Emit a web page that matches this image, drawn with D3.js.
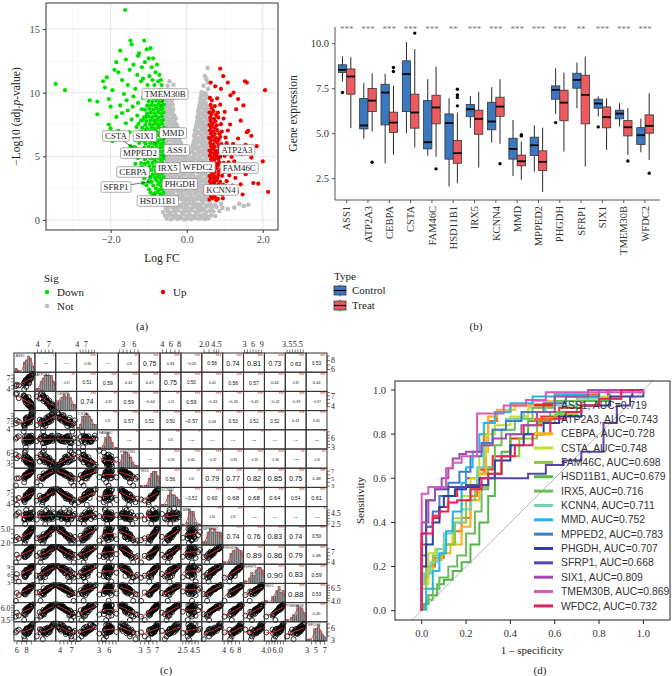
<!DOCTYPE html>
<html><head><meta charset="utf-8">
<script src="https://cdn.jsdelivr.net/npm/d3@7"></script>
<style>body{margin:0;background:#fff}svg{display:block}</style>
</head><body><div id="fig"></div>
<script>
const genes = ["ASS1","ATP2A3","CEBPA","CSTA","FAM46C","HSD11B1","IRX5","KCNN4","MMD","MPPED2","PHGDH","SFRP1","SIX1","TMEM30B","WFDC2"];

// (a) volcano: [logFC, -log10 adj p]
const notPts = [[-0.52,0.12],[-0.41,0.05],[-0.33,0.18],[-0.24,0.08],[-0.15,0.15],[-0.06,0.04],[0.03,0.11],[0.12,0.06],[0.21,0.17],[0.3,0.09],[0.39,0.14],[0.48,0.07],[0.57,0.13],
[-0.57,0.35],[-0.46,0.42],[-0.37,0.3],[-0.28,0.38],[-0.19,0.27],[-0.1,0.44],[-0.01,0.32],[0.08,0.4],[0.17,0.29],[0.26,0.45],[0.35,0.33],[0.44,0.41],[0.53,0.28],[0.64,0.36],[0.75,0.31],
[-0.62,0.62],[-0.5,0.7],[-0.42,0.58],[-0.31,0.66],[-0.22,0.74],[-0.12,0.6],[-0.04,0.71],[0.06,0.64],[0.14,0.76],[0.23,0.6],[0.33,0.69],[0.42,0.77],[0.51,0.63],[0.6,0.72],[0.7,0.66],[0.86,0.7],
[-0.55,0.95],[-0.45,1.02],[-0.35,0.9],[-0.26,0.98],[-0.16,1.05],[-0.08,0.92],[0.02,1.0],[0.1,0.88],[0.19,1.04],[0.28,0.93],[0.37,1.01],[0.46,0.9],[0.55,1.06],[0.66,0.97],[0.78,1.03],[0.94,0.95],[1.08,0.86],
[-0.58,1.25],[-0.48,1.18],[-0.39,1.3],[-0.29,1.22],[-0.2,1.15],[-0.11,1.28],[-0.02,1.2],[0.07,1.32],[0.16,1.17],[0.25,1.27],[0.34,1.21],[0.43,1.31],[0.52,1.16],[0.62,1.24],[0.74,1.19],[0.9,1.28],[1.38,1.26],[1.5,1.1],[1.62,1.2],[1.25,0.98],
[-0.56,1.55],[-0.46,1.62],[-0.36,1.5],[-0.25,1.58],[-0.14,1.65],[-0.04,1.52],[0.06,1.6],[0.17,1.5],[0.27,1.64],[0.38,1.56],[0.48,1.6],[0.56,1.52],
[-0.51,1.78],[-0.41,1.72],[-0.3,1.8],[-0.19,1.7],[-0.09,1.77],[0.01,1.73],[0.12,1.79],[0.22,1.71],[0.33,1.78],[0.43,1.74],[0.53,1.8],
[-0.53,1.95],[-0.43,2.05],[-0.32,1.9],[-0.21,2.02],[-0.1,1.93],[0.0,2.08],[0.1,1.97],[0.21,2.06],[0.31,1.92],[0.42,2.03],[0.52,1.96],
[-0.55,2.22],[-0.45,2.28],[-0.35,2.2],[-0.24,2.27],[-0.13,2.23],[-0.03,2.3],[0.08,2.21],[0.18,2.29],[0.28,2.24],[0.38,2.2],[0.49,2.28],
[-0.57,2.45],[-0.47,2.55],[-0.37,2.4],[-0.27,2.52],[-0.17,2.44],[-0.06,2.58],[0.05,2.46],[0.15,2.56],[0.25,2.42],[0.35,2.53],[0.45,2.47],[0.55,2.57],
[-0.5,2.72],[-0.4,2.78],[-0.29,2.7],[-0.19,2.77],[-0.08,2.73],[0.03,2.8],[0.13,2.71],[0.23,2.79],[0.34,2.74],[0.44,2.7],[0.54,2.78],
[-0.54,2.95],[-0.44,3.05],[-0.34,2.9],[-0.23,3.02],[-0.12,2.93],[-0.02,3.08],[0.09,2.96],[0.19,3.06],[0.3,2.91],[0.4,3.03],[0.5,2.97],
[-0.52,3.22],[-0.41,3.28],[-0.3,3.2],[-0.19,3.27],[-0.08,3.23],[0.02,3.3],[0.12,3.21],[0.23,3.29],[0.33,3.24],[0.43,3.2],[0.53,3.28],
[-0.56,3.45],[-0.46,3.56],[-0.35,3.42],[-0.25,3.52],[-0.14,3.47],[-0.04,3.58],[0.07,3.44],[0.17,3.55],[0.28,3.4],[0.38,3.5],[0.48,3.57],[0.57,3.46],
[-0.55,3.72],[-0.45,3.78],[-0.34,3.7],[-0.23,3.77],[-0.12,3.73],[-0.02,3.8],[0.09,3.71],[0.19,3.79],[0.3,3.74],[0.4,3.7],[0.5,3.78],
[-0.53,3.95],[-0.42,4.06],[-0.31,3.92],[-0.2,4.03],[-0.09,3.97],[0.02,4.08],[0.13,3.94],[0.24,4.04],[0.34,3.91],[0.44,4.02],[0.54,3.98],
[-0.5,4.22],[-0.39,4.28],[-0.28,4.2],[-0.17,4.27],[-0.06,4.23],[0.05,4.3],[0.16,4.21],[0.26,4.29],[0.36,4.24],[0.46,4.2],[0.56,4.28],
[-0.57,4.45],[-0.47,4.56],[-0.37,4.42],[-0.26,4.53],[-0.15,4.47],[-0.05,4.58],[0.06,4.44],[0.16,4.55],[0.27,4.41],[0.37,4.52],[0.47,4.57],[0.56,4.46],
[-0.55,4.72],[-0.44,4.78],[-0.34,4.7],[-0.23,4.77],[-0.12,4.73],[-0.02,4.8],[0.09,4.71],[0.19,4.79],[0.3,4.74],[0.4,4.7],[0.5,4.78],
[-0.54,4.95],[-0.43,5.06],[-0.32,4.92],[-0.21,5.03],[-0.1,4.97],[0.01,5.02],[0.12,4.93],[0.22,5.05],[0.33,4.96],[0.43,5.07],[0.53,4.94],
[-0.52,5.22],[-0.41,5.28],[-0.3,5.2],[-0.18,5.27],[-0.07,5.23],[0.08,5.3],[0.19,5.21],[0.3,5.29],[0.41,5.24],[0.51,5.2],
[-0.56,5.45],[-0.45,5.56],[-0.34,5.5],[-0.22,5.42],[-0.12,5.55],[0.14,5.46],[0.25,5.57],[0.36,5.44],[0.46,5.53],[0.56,5.48],
[-0.51,5.72],[-0.4,5.78],[-0.28,5.7],[-0.17,5.77],[0.15,5.73],[0.22,5.8],[0.32,5.71],[0.42,5.79],[0.52,5.74],
[-0.55,6.02],[-0.44,5.93],[-0.33,6.06],[-0.22,5.97],[-0.15,6.05],[0.17,5.95],[0.28,6.07],[0.39,5.98],[0.49,6.04],[0.57,5.92],
[-0.52,6.22],[-0.41,6.28],[-0.29,6.2],[-0.19,6.27],[0.19,6.23],[0.25,6.3],[0.35,6.21],[0.45,6.29],[0.54,6.24],
[-0.57,6.45],[-0.47,6.56],[-0.36,6.44],[-0.26,6.53],[-0.19,6.47],[0.2,6.55],[0.3,6.43],[0.41,6.52],[0.51,6.46],
[-0.52,6.72],[-0.41,6.78],[-0.3,6.7],[-0.21,6.77],[0.21,6.73],[0.27,6.8],[0.38,6.71],[0.48,6.79],[0.56,6.74],
[-0.54,7.05],[-0.43,6.94],[-0.33,7.06],[-0.24,6.97],[0.22,7.03],[0.33,6.95],[0.43,7.07],[0.53,6.98],
[-0.51,7.22],[-0.4,7.28],[-0.3,7.2],[-0.24,7.27],[0.24,7.23],[0.3,7.3],[0.4,7.21],[0.5,7.29],
[-0.56,7.45],[-0.46,7.56],[-0.36,7.43],[-0.27,7.52],[0.25,7.46],[0.35,7.55],[0.45,7.44],[0.55,7.53],
[-0.51,7.72],[-0.41,7.78],[-0.32,7.7],[0.27,7.73],[0.33,7.8],[0.42,7.71],[0.52,7.79],
[-0.55,8.04],[-0.45,7.95],[-0.35,8.06],[-0.29,7.97],[0.28,8.05],[0.38,7.96],[0.48,8.07],[0.57,7.94],
[-0.52,8.22],[-0.42,8.28],[-0.33,8.2],[0.3,8.23],[0.35,8.3],[0.45,8.21],[0.54,8.29],
[-0.57,8.46],[-0.47,8.55],[-0.38,8.43],[0.3,8.53],[0.4,8.45],[0.5,8.56],
[-0.52,8.72],[-0.42,8.78],[-0.36,8.7],[0.32,8.73],[0.38,8.8],[0.48,8.71],[0.56,8.79],
[-0.55,9.04],[-0.45,8.96],[-0.37,9.07],[0.33,8.95],[0.43,9.06],[0.53,8.97],
[-0.51,9.22],[-0.41,9.28],[0.35,9.23],[0.41,9.3],[0.5,9.21],
[-0.56,9.46],[-0.46,9.55],[-0.39,9.43],[0.36,9.52],[0.46,9.45],[0.56,9.56],
[-0.51,9.72],[-0.42,9.78],[0.38,9.73],[0.45,9.8],[0.53,9.71],
[-0.54,10.05],[-0.43,9.96],[0.39,10.04],[0.49,9.95],[0.56,10.3],
[-0.5,10.55],[-0.35,10.62],[0.44,10.55],[0.52,11.05],[0.55,10.8],[0.48,11.3],[0.55,11.95],[-0.45,10.9]];

const downPts = [[-3.45,10.7],[-3.2,10.2],[-2.55,9.4],[-2.35,9.3],[-2.35,8.3],[-2.2,10.9],[-2.15,10.4],[-2.1,11.2],[-2.05,9.5],[-2.0,8.9],[-1.95,10.2],[-1.9,11.8],[-1.85,12.4],[-1.8,11.6],[-1.75,13.3],[-1.7,11.0],[-1.65,9.9],[-1.62,16.5],[-1.6,12.6],[-1.55,10.6],[-1.5,11.8],[-1.48,14.1],[-1.45,13.8],[-1.4,12.2],[-1.35,10.3],[-1.3,11.4],[-1.28,12.9],[-1.25,13.1],[-1.2,10.9],[-1.18,12.0],[-1.15,11.1],[-1.12,14.1],[-1.1,12.4],[-1.05,13.4],[-1.03,10.6],[-1.0,12.7],[-0.98,11.3],[-0.95,13.5],[-0.92,12.0],[-0.9,11.0],[-0.88,12.7],[-0.85,10.6],[-0.82,11.6],[-0.78,12.2],[-0.75,10.9],[-0.72,11.4],[-0.7,10.2],[-0.68,11.0],[-0.66,10.6],
[-2.05,7.5],[-2.0,7.2],[-1.95,6.2],[-1.9,6.5],[-1.85,8.1],[-1.8,7.0],[-1.75,9.0],[-1.7,8.4],[-1.65,6.8],[-1.6,7.6],[-1.58,9.4],[-1.55,8.6],[-1.5,6.9],[-1.48,5.8],[-1.45,7.9],[-1.42,8.9],[-1.4,9.7],[-1.35,6.3],[-1.32,7.3],[-1.3,8.2],[-1.28,9.2],[-1.25,5.5],[-1.22,6.8],[-1.2,7.8],[-1.18,8.7],[-1.15,9.6],[-1.12,5.1],[-1.1,6.1],[-1.08,7.1],[-1.06,8.1],[-1.04,9.0],[-1.02,9.9],[-1.35,4.4],[-1.15,2.9],[-1.25,3.8],[-1.1,4.4],
[-0.62,1.5],[-0.7,1.62],[-0.78,1.45],[-0.86,1.58],[-0.65,1.83],[-0.74,1.76],[-0.9,1.88],
[-0.61,2.12],[-0.69,2.04],[-0.77,2.18],[-0.85,2.08],[-0.95,2.15],[-0.64,2.42],[-0.72,2.36],[-0.81,2.47],[-0.99,2.4],
[-0.6,2.74],[-0.67,2.66],[-0.75,2.78],[-0.88,2.7],[-1.06,2.73],[-0.63,3.04],[-0.7,2.96],[-0.79,3.08],[-0.92,3.0],[-1.0,3.05],
[-0.61,3.35],[-0.68,3.27],[-0.76,3.38],[-0.84,3.3],[-0.96,3.34],[-1.12,3.28],[-0.64,3.63],[-0.71,3.56],[-0.8,3.66],[-0.89,3.58],[-1.03,3.62],
[-0.6,3.94],[-0.66,3.86],[-0.74,3.97],[-0.83,3.88],[-0.93,3.93],[-1.08,3.87],[-0.62,4.24],[-0.7,4.16],[-0.78,4.27],[-0.87,4.18],[-0.98,4.23],[-1.18,4.17],
[-0.65,4.54],[-0.72,4.46],[-0.81,4.57],[-0.9,4.48],[-1.02,4.53],[-1.2,4.47],[-0.61,4.84],[-0.68,4.76],[-0.77,4.87],[-0.86,4.78],[-0.95,4.83],[-1.1,4.77],[-1.28,4.85],
[-0.63,5.14],[-0.71,5.06],[-0.8,5.17],[-0.88,5.08],[-0.99,5.13],[-1.14,5.07],[-0.6,5.44],[-0.67,5.36],[-0.75,5.47],[-0.84,5.38],[-0.93,5.43],[-1.05,5.37],[-1.22,5.45],
[-0.64,5.74],[-0.72,5.66],[-0.79,5.77],[-0.9,5.68],[-1.0,5.73],[-1.12,5.67],[-1.36,5.72],[-0.62,6.04],[-0.69,5.96],[-0.77,6.07],[-0.86,5.98],[-0.96,6.03],[-1.08,5.97],[-1.25,6.05],
[-0.65,6.34],[-0.73,6.26],[-0.82,6.37],[-0.91,6.28],[-1.02,6.33],[-1.16,6.27],[-0.61,6.64],[-0.68,6.56],[-0.76,6.67],[-0.85,6.58],[-0.94,6.63],[-1.06,6.57],[-1.3,6.65],
[-0.63,6.94],[-0.71,6.86],[-0.8,6.97],[-0.89,6.88],[-0.98,6.93],[-1.1,6.87],[-1.2,6.95],[-0.6,7.24],[-0.67,7.16],[-0.75,7.27],[-0.84,7.18],[-0.93,7.23],[-1.04,7.17],[-1.17,7.25],
[-0.64,7.54],[-0.72,7.46],[-0.79,7.57],[-0.88,7.48],[-0.97,7.53],[-1.09,7.47],[-1.27,7.55],[-0.62,7.84],[-0.69,7.76],[-0.78,7.87],[-0.86,7.78],[-0.95,7.83],[-1.06,7.77],[-1.15,7.85],
[-0.65,8.14],[-0.73,8.06],[-0.81,8.17],[-0.9,8.08],[-1.0,8.13],[-1.12,8.07],[-0.61,8.44],[-0.68,8.36],[-0.76,8.47],[-0.84,8.38],[-0.94,8.43],[-1.04,8.37],
[-0.63,8.74],[-0.7,8.66],[-0.79,8.77],[-0.88,8.68],[-0.98,8.73],[-1.1,8.67],[-0.6,9.04],[-0.67,8.96],[-0.75,9.07],[-0.83,8.98],[-0.92,9.03],[-1.02,8.97],
[-0.64,9.34],[-0.72,9.26],[-0.8,9.37],[-0.9,9.28],[-1.0,9.33],[-0.62,9.64],[-0.7,9.56],[-0.78,9.67],[-0.87,9.58],[-0.97,9.63],[-0.66,9.94],[-0.74,9.86],[-0.85,9.97],[-0.95,9.88]];

const upPts = [[0.88,11.9],[0.63,10.8],[0.96,11.3],[1.08,10.8],[1.58,10.8],[1.23,10.0],[1.49,9.0],[0.61,9.6],[2.06,10.2],[1.53,10.9],[1.58,6.9],[1.84,5.8],[2.0,4.6],[1.75,2.9],[1.88,2.85],[2.14,2.2],[1.47,2.0],[1.35,9.5],[1.15,9.8],[0.9,10.3],[0.75,10.5],[1.3,8.7],[1.62,7.0],[1.7,6.6],[1.42,7.8],[1.35,6.4],[1.55,5.9],[1.45,5.2],[1.7,4.9],[1.25,4.6],[1.36,3.9],[1.55,3.6],[1.28,3.3],[1.2,2.7],[1.42,2.8],[1.32,2.2],[0.95,1.7],[0.78,1.55],
[0.6,1.6],[0.68,1.7],[0.82,1.65],[0.64,1.85],[0.74,1.8],[0.62,2.05],[0.71,1.95],[0.8,2.1],[0.93,2.0],[0.65,2.3],[0.72,2.25],[0.82,2.33],[0.59,2.5],[0.66,2.6],[0.75,2.45],[0.86,2.55],[1.0,2.5],
[0.63,2.78],[0.72,2.75],[0.83,2.8],[0.96,2.76],[0.61,3.05],[0.69,2.95],[0.78,3.1],[0.88,3.0],[1.05,3.05],[0.64,3.28],[0.72,3.25],[0.81,3.3],[0.6,3.45],[0.67,3.56],[0.74,3.42],[0.83,3.55],[0.93,3.47],[1.12,3.5],
[0.64,3.78],[0.73,3.75],[0.84,3.8],[0.97,3.77],[0.62,4.05],[0.7,3.94],[0.79,4.08],[0.9,3.97],[1.02,4.03],[0.63,4.28],[0.72,4.25],[0.82,4.3],[0.94,4.26],[0.59,4.46],[0.66,4.57],[0.75,4.44],[0.85,4.55],[0.97,4.48],[1.1,4.52],
[0.64,4.78],[0.73,4.75],[0.83,4.8],[0.61,5.05],[0.69,4.94],[0.78,5.07],[0.88,4.97],[1.0,5.04],[1.18,4.95],[0.63,5.28],[0.72,5.25],[0.82,5.3],[0.93,5.26],[0.6,5.45],[0.67,5.56],[0.76,5.43],[0.86,5.54],[0.98,5.47],[1.12,5.55],
[0.64,5.78],[0.73,5.75],[0.84,5.8],[0.62,6.04],[0.7,5.95],[0.8,6.07],[0.91,5.96],[1.05,6.03],[1.22,5.98],[0.63,6.28],[0.73,6.25],[0.84,6.3],[0.59,6.46],[0.68,6.55],[0.77,6.44],[0.88,6.53],[1.02,6.47],
[0.64,6.78],[0.74,6.75],[0.86,6.8],[0.61,7.04],[0.7,6.96],[0.8,7.06],[0.92,6.95],[1.08,7.03],[0.64,7.28],[0.74,7.25],[0.6,7.46],[0.68,7.55],[0.79,7.44],[0.9,7.53],[1.14,7.5],
[0.63,7.78],[0.75,7.75],[0.62,8.04],[0.72,7.95],[0.83,8.06],[0.97,7.97],[0.65,8.28],[0.77,8.25],[0.6,8.46],[0.7,8.55],[0.82,8.44],[1.0,8.5],[0.66,8.78],[0.63,9.04],[0.74,8.95],[0.88,9.06],[0.66,9.4],[0.8,9.55]];

// labelled genes: name, logFC, -log10 p
const labelGenes = [["TMEM30B",-0.68,8.9],["CSTA",-1.42,5.7],["SIX1",-0.8,6.0],["MMD",-0.62,6.3],["MPPED2",-0.7,5.4],["ASS1",-0.62,5.0],["ATP2A3",0.8,4.9],["IRX5",-0.62,4.3],["WFDC2",0.72,3.9],["FAM46C",0.8,4.4],["CEBPA",-0.95,3.4],["SFRP1",-0.98,3.0],["PHGDH",-0.66,3.1],["KCNN4",0.72,3.0],["HSD11B1",-0.85,2.1]];
// where the repelled label boxes sit (data units)
const labelAt = {TMEM30B:[-0.57,9.9],CSTA:[-1.86,6.6],SIX1:[-1.1,6.6],MMD:[-0.36,6.83],MPPED2:[-1.23,5.26],ASS1:[-0.26,5.5],ATP2A3:[1.32,5.5],IRX5:[-0.5,4.08],WFDC2:[0.29,4.16],FAM46C:[1.38,4.08],CEBPA:[-1.41,3.77],SFRP1:[-1.86,2.59],PHGDH:[-0.18,2.83],KCNN4:[0.9,2.36],HSD11B1:[-0.76,1.49]};

// (b) boxplots: [lower whisker, q1, median, q3, upper whisker]
const boxControl = [[7.87,8.37,8.52,8.80,9.26],[4.69,5.24,5.43,6.93,7.78],[3.33,5.46,7.26,7.72,8.30],[5.00,6.20,8.28,9.02,10.06],[3.76,4.13,4.50,6.81,8.00],[2.04,3.56,5.56,6.07,6.94],[5.31,5.93,6.33,6.59,7.07],[4.48,5.19,5.65,6.72,7.56],[2.63,3.56,4.13,4.72,5.74],[2.87,3.76,4.33,4.78,5.44],[6.07,6.89,7.41,7.63,8.61],[6.39,7.50,7.96,8.33,8.93],[5.93,6.39,6.65,6.89,7.04],[5.37,5.80,6.09,6.28,6.67],[3.94,4.37,4.89,5.31,5.81]];
const boxTreat = [[5.28,7.17,8.15,8.57,9.22],[5.09,6.20,6.81,7.48,8.33],[3.80,5.04,5.59,6.17,7.63],[4.22,5.28,6.15,7.17,9.67],[3.70,5.52,6.43,7.11,8.70],[2.22,3.33,3.89,4.59,6.15],[3.09,4.94,5.80,6.28,7.30],[4.41,5.94,6.48,7.00,8.00],[2.41,3.19,3.44,3.78,4.54],[1.74,2.93,3.41,4.02,5.31],[3.98,5.69,6.70,7.39,8.37],[3.15,5.52,7.13,8.22,9.26],[4.07,5.30,5.89,6.46,6.94],[3.80,4.85,5.33,5.70,6.39],[3.52,5.00,5.41,6.02,7.22]];
const outControl = [[7.26],[],[],[],[],[],[],[],[],[],[5.59],[],[5.35],[],[]];
const outTreat = [[],[3.39],[8.65,8.43],[10.56],[3.02],[7.44,7.13,6.98,6.52],[],[3.30],[4.85,4.92],[],[],[],[],[3.46],[2.78]];
const sigMarks = ["***","***","***","***","***","**","***","***","***","***","***","**","***","***","***"];

// (c) expression per sample, columns in gene order
const samples = [
[5.8,4.8,7.5,6.2,5.8,5.7,3.1,5.3,4.0,2.6,4.1,4.8,4.0,4.2,4.9],
[7.6,5.4,7.0,4.4,4.4,6.3,4.9,4.6,3.5,1.9,5.6,5.3,5.3,4.7,3.2],
[6.4,5.0,6.4,6.8,6.6,5.2,5.1,5.7,4.6,2.9,5.4,3.3,5.1,4.4,5.6],
[7.5,3.8,6.9,5.5,5.1,4.8,4.0,5.0,3.3,3.0,6.0,5.6,5.6,3.5,3.9],
[7.8,5.7,6.6,6.0,3.1,6.8,5.4,5.5,3.9,2.5,5.9,5.9,5.2,4.6,4.6],
[6.0,5.2,7.8,7.3,6.2,4.6,5.0,3.9,4.3,3.3,6.3,6.2,5.5,5.0,5.3],
[7.7,6.0,6.1,6.3,5.4,5.5,5.6,5.9,2.5,3.1,5.7,5.0,5.8,5.2,4.8],
[7.4,5.5,7.2,5.7,8.1,4.2,5.3,5.2,4.1,2.8,6.5,6.7,5.4,4.8,5.0],
[8.2,6.4,5.5,6.6,4.8,5.0,5.7,5.6,3.7,3.5,6.1,6.4,5.9,5.4,4.5],
[7.9,4.6,6.3,7.6,5.7,3.6,5.5,6.3,4.4,3.2,6.8,5.5,5.7,5.1,5.7],
[7.6,6.1,5.9,5.2,6.4,4.5,5.9,5.4,3.4,3.6,6.4,6.9,6.0,5.5,5.1],
[8.4,5.8,6.7,6.9,4.5,3.9,5.8,6.0,3.8,3.4,6.6,7.2,5.8,5.3,4.7],
[7.8,6.6,5.2,7.9,5.9,4.9,6.1,6.5,4.2,3.9,6.9,6.6,6.1,5.6,5.4],
[8.1,5.9,6.0,6.2,6.7,3.4,5.9,5.8,3.6,3.3,7.2,7.5,5.9,5.4,5.8],
[8.6,6.8,5.4,7.4,5.2,4.4,6.2,6.2,3.9,4.0,6.7,7.0,6.2,5.8,5.0],
[7.9,6.3,6.5,8.3,4.7,3.9,6.0,5.7,5.0,3.7,7.1,7.8,6.1,5.5,5.5],
[8.3,7.1,5.7,6.7,6.1,4.7,6.3,6.7,3.3,3.8,7.0,7.3,6.3,5.7,4.9],
[8.0,6.5,4.9,7.8,5.5,3.3,6.1,6.4,4.0,4.2,7.4,7.9,6.2,5.9,5.9],
[8.5,5.6,5.6,7.1,6.5,4.1,6.4,6.0,3.7,3.9,7.3,8.1,6.4,5.6,5.2],
[8.2,7.0,4.6,8.6,5.0,3.7,6.6,6.9,4.3,4.3,7.6,7.6,6.3,6.0,5.6],
[8.7,6.7,5.3,6.5,6.0,4.3,6.3,6.6,3.5,4.1,7.5,8.3,6.5,5.8,6.1],
[8.4,7.4,4.3,7.7,5.6,2.9,6.5,7.2,3.9,4.6,7.8,8.0,6.6,6.1,5.3],
[8.9,6.9,5.0,9.0,4.9,3.5,6.7,6.8,5.3,4.4,7.7,8.6,6.4,6.2,5.8],
[8.6,7.6,4.5,7.2,6.3,3.8,6.8,7.0,3.6,4.8,8.0,8.4,6.7,5.9,6.3],
[8.8,7.2,4.0,8.2,5.3,2.6,6.6,7.4,4.4,4.5,8.2,8.8,6.6,6.3,5.7],
[9.0,7.9,4.8,9.4,5.8,3.2,6.9,6.9,3.8,4.9,7.9,8.7,6.8,6.2,6.6],
[8.7,7.5,3.9,7.9,6.6,2.8,7.0,7.6,4.2,5.0,8.3,9.0,6.7,6.4,6.0],
[9.1,8.0,4.4,8.8,5.1,3.6,6.8,7.3,3.4,5.1,8.1,8.5,6.9,6.5,6.8],
[8.9,7.7,3.7,9.6,6.0,2.4,7.1,7.8,4.0,5.2,8.4,9.1,6.8,6.3,6.4],
[9.2,8.2,4.1,8.5,5.5,3.0,7.2,7.5,4.6,5.3,8.5,8.9,7.0,6.6,7.0],
[9.0,7.8,3.5,10.1,6.8,2.2,7.0,7.9,3.7,5.4,8.6,9.2,6.9,6.5,6.2],
[9.3,8.3,3.4,10.4,5.9,2.7,7.3,8.0,4.3,5.3,8.5,9.3,7.0,6.7,7.1]];
// printed correlations, row i against genes i+1..14
const corrUpper = [
[0.27,-0.19,-0.36,0.14,-0.29,0.75,0.43,-0.40,0.56,0.74,0.81,0.73,0.63,0.53],
[-0.31,0.51,0.59,0.42,0.47,0.75,0.50,0.40,0.56,0.57,0.44,0.35,0.44],
[0.74,-0.33,0.59,-0.44,-0.31,0.59,-0.43,-0.45,-0.42,-0.42,-0.39,-0.37],
[0.31,0.57,0.52,0.50,-0.57,0.43,0.53,0.52,0.52,0.41,0.41],
[-0.20,0.11,0.31,-0.27,0.10,0.17,0.23,0.11,0.10,0.22],
[-0.11,-0.36,0.40,-0.37,-0.35,-0.35,-0.36,-0.28,-0.30],
[0.56,0.30,0.79,0.77,0.82,0.85,0.75,0.48],
[-0.52,0.60,0.68,0.68,0.64,0.54,0.61],
[0.30,0.31,-0.26,0.10,0.18,-0.23],
[0.74,0.76,0.83,0.74,0.50],
[0.89,0.86,0.79,0.48],
[0.90,0.83,0.59],
[0.88,0.53],
[0.45]];
const colTickLabels = [["6","8"],["4","7"],["4","7"],["4","7"],["3","6"],["3","6"],["3","5","7"],["4","6","8"],["2.5","4.5"],["2.0","4.5"],["4","6","8"],["3","6","9"],["4.0","6.0"],["3.5","5.5"],["3","5","7"]];
const rowTickLabels = [["6","8"],["4","7"],["4","7"],["4","7"],["3","6"],["3","6"],["3","5","7"],["4","7"],["2.5","4.5"],["2.0","5.0"],["4","7"],["3","6","9"],["4.0","6.5"],["3.5","6.0"],["3","6"]];

// (d) ROC: [1 - specificity, sensitivity] corners
const aucVals = [0.719,0.743,0.728,0.748,0.698,0.679,0.716,0.711,0.752,0.783,0.707,0.668,0.809,0.869,0.732];
const rocColors = ["#EE2A24","#F26B2A","#F4B41A","#C8DC2C","#8CC63F","#52B848","#6BBE5A","#76D0B8","#1FB8EA","#3E7EC8","#2E3F9E","#5746A5","#A24DB2","#D65CB3","#EC1E5B"];
const rocCurves = [
[[0,0],[0.02,0.3],[0.05,0.38],[0.08,0.42],[0.12,0.47],[0.16,0.52],[0.2,0.56],[0.26,0.6],[0.32,0.64],[0.4,0.7],[0.46,0.78],[0.54,0.84],[0.62,0.88],[0.72,0.92],[0.84,0.95],[1,1]],
[[0,0],[0.03,0.15],[0.06,0.2],[0.1,0.24],[0.14,0.3],[0.18,0.36],[0.22,0.42],[0.25,0.52],[0.28,0.62],[0.3,0.8],[0.34,0.86],[0.4,0.9],[0.5,0.93],[0.6,0.95],[0.8,0.98],[1,1]],
[[0,0],[0.02,0.13],[0.05,0.17],[0.09,0.23],[0.13,0.26],[0.18,0.3],[0.22,0.38],[0.26,0.5],[0.29,0.62],[0.3,0.72],[0.34,0.88],[0.42,0.91],[0.5,0.93],[0.65,0.95],[0.8,0.97],[1,1]],
[[0,0],[0.03,0.12],[0.06,0.26],[0.1,0.28],[0.14,0.3],[0.18,0.42],[0.22,0.52],[0.26,0.6],[0.29,0.7],[0.33,0.8],[0.4,0.84],[0.48,0.88],[0.58,0.92],[0.7,0.95],[0.85,0.97],[1,1]],
[[0,0],[0.02,0.1],[0.05,0.2],[0.1,0.25],[0.15,0.3],[0.2,0.4],[0.24,0.5],[0.3,0.56],[0.36,0.62],[0.44,0.7],[0.52,0.78],[0.6,0.85],[0.7,0.89],[0.8,0.93],[0.9,0.96],[1,1]],
[[0.01,0],[0.03,0.03],[0.07,0.07],[0.1,0.12],[0.14,0.14],[0.18,0.18],[0.22,0.22],[0.26,0.3],[0.3,0.4],[0.33,0.52],[0.36,0.62],[0.4,0.72],[0.48,0.8],[0.58,0.86],[0.7,0.9],[0.85,0.95],[1,1]],
[[0.02,0],[0.05,0.05],[0.08,0.1],[0.12,0.15],[0.16,0.2],[0.2,0.25],[0.24,0.35],[0.27,0.45],[0.3,0.55],[0.33,0.65],[0.36,0.75],[0.42,0.82],[0.5,0.87],[0.6,0.92],[0.75,0.95],[1,1]],
[[0,0],[0.01,0.12],[0.04,0.17],[0.07,0.22],[0.1,0.28],[0.14,0.35],[0.18,0.4],[0.22,0.46],[0.25,0.55],[0.28,0.65],[0.32,0.75],[0.38,0.82],[0.46,0.87],[0.56,0.9],[0.7,0.93],[0.85,0.96],[1,1]],
[[0.02,0],[0.05,0.1],[0.08,0.18],[0.11,0.26],[0.14,0.36],[0.18,0.45],[0.2,0.58],[0.23,0.65],[0.26,0.72],[0.28,0.8],[0.33,0.85],[0.4,0.9],[0.5,0.94],[0.6,0.97],[0.75,0.98],[1,1]],
[[0,0],[0.02,0.25],[0.05,0.38],[0.08,0.45],[0.12,0.52],[0.17,0.58],[0.22,0.63],[0.27,0.7],[0.32,0.76],[0.38,0.82],[0.45,0.86],[0.55,0.9],[0.65,0.94],[0.8,0.97],[1,1]],
[[0,0],[0.02,0.2],[0.05,0.3],[0.08,0.4],[0.1,0.47],[0.15,0.52],[0.2,0.55],[0.26,0.56],[0.33,0.6],[0.4,0.68],[0.46,0.75],[0.55,0.8],[0.62,0.85],[0.72,0.88],[0.85,0.93],[0.95,0.97],[1,1]],
[[0,0],[0.02,0.35],[0.06,0.5],[0.12,0.55],[0.2,0.56],[0.3,0.57],[0.4,0.6],[0.48,0.6],[0.56,0.62],[0.64,0.66],[0.72,0.68],[0.82,0.72],[0.88,0.85],[0.94,0.93],[1,0.97],[1,1]],
[[0,0],[0.03,0.4],[0.06,0.5],[0.09,0.55],[0.12,0.6],[0.14,0.645],[0.17,0.69],[0.2,0.71],[0.27,0.72],[0.32,0.75],[0.38,0.78],[0.45,0.8],[0.52,0.84],[0.6,0.9],[0.75,0.97],[1,1]],
[[0,0],[0.03,0.53],[0.11,0.56],[0.14,0.645],[0.18,0.67],[0.25,0.7],[0.37,0.894],[0.47,0.93],[0.56,0.955],[1,0.99],[1,1]],
[[0,0],[0.05,0.35],[0.08,0.43],[0.12,0.45],[0.16,0.49],[0.22,0.5],[0.27,0.55],[0.3,0.6],[0.36,0.62],[0.42,0.7],[0.5,0.75],[0.58,0.8],[0.65,0.87],[0.72,0.9],[0.8,0.93],[0.9,0.96],[1,1]]];

// ---------- drawing ----------
const serif = "'Liberation Serif','DejaVu Serif',serif";
const sans = "'Liberation Sans',Arial,sans-serif";
const svg = d3.select("#fig").append("svg").attr("width",672).attr("height",676)
  .style("font-family",serif);

function caption(x,y,t){
  svg.append("text").attr("x",x).attr("y",y).attr("text-anchor","middle")
    .attr("font-size",11).attr("fill","#222").text(t);
}

// ===== (a) volcano =====
(function(){
const A = {l:46,r:278,t:3,b:230};
const x = d3.scaleLinear().domain([-3.7,2.4]).range([A.l,A.r]);
const y = d3.scaleLinear().domain([-0.79,17.05]).range([A.b,A.t]);
const g = svg.append("g");

[-3,-1,1].forEach(v=>g.append("line").attr("x1",x(v)).attr("x2",x(v)).attr("y1",A.t).attr("y2",A.b).attr("stroke","#f0f0f0").attr("stroke-width",0.5));
[2.5,7.5,12.5].forEach(v=>g.append("line").attr("y1",y(v)).attr("y2",y(v)).attr("x1",A.l).attr("x2",A.r).attr("stroke","#f0f0f0").attr("stroke-width",0.5));
[-2,0,2].forEach(v=>g.append("line").attr("x1",x(v)).attr("x2",x(v)).attr("y1",A.t).attr("y2",A.b).attr("stroke","#e3e3e3").attr("stroke-width",0.9));
[0,5,10,15].forEach(v=>g.append("line").attr("y1",y(v)).attr("y2",y(v)).attr("x1",A.l).attr("x2",A.r).attr("stroke","#e3e3e3").attr("stroke-width",0.9));

const dot = (pts,col,r)=>g.append("g").selectAll("circle").data(pts).join("circle")
  .attr("cx",d=>x(d[0])).attr("cy",d=>y(d[1])).attr("r",r).attr("fill",col);
dot(notPts,"#bebebe",2.3);
dot(downPts,"#00e000",2.1);
dot(upPts,"#ee0000",2.1);
dot(labelGenes.map(d=>[d[1],d[2]]),null,2.1).attr("fill",d=>d[0]<0?"#00e000":"#ee0000");

// repelled labels
labelGenes.forEach(([name,fc,p])=>{
  const at = labelAt[name];
  const lx = x(at[0]), ly = y(at[1]);
  g.append("line").attr("x1",x(fc)).attr("y1",y(p)).attr("x2",lx).attr("y2",ly)
    .attr("stroke","#111").attr("stroke-width",0.6);
  const lg = g.append("g");
  const r = lg.append("rect");
  const t = lg.append("text").attr("x",lx).attr("y",ly).attr("text-anchor","middle")
    .attr("dy","0.35em").attr("font-size",8.8).attr("fill","#222").text(name);
  const w = t.node().getComputedTextLength();
  r.attr("x",lx-w/2-2.5).attr("y",ly-5.3).attr("width",w+5).attr("height",10.6).attr("rx",1.5)
    .attr("fill","#fff").attr("stroke","#777").attr("stroke-width",0.6);
});

g.append("rect").attr("x",A.l).attr("y",A.t).attr("width",A.r-A.l).attr("height",A.b-A.t)
  .attr("fill","none").attr("stroke","#333").attr("stroke-width",1);

const xa = g.append("g").attr("transform",`translate(0,${A.b})`)
  .call(d3.axisBottom(x).tickValues([-2,0,2]).tickSize(3).tickPadding(3));
const ya = g.append("g").attr("transform",`translate(${A.l},0)`)
  .call(d3.axisLeft(y).tickValues([0,5,10,15]).tickSize(3).tickPadding(3));
[xa,ya].forEach(a=>{a.select(".domain").remove();
  a.selectAll("text").attr("font-family",serif).attr("font-size",10.5).attr("fill","#4d4d4d");
  a.selectAll("line").attr("stroke","#333");});

g.append("text").attr("x",(A.l+A.r)/2).attr("y",262).attr("text-anchor","middle")
  .attr("font-size",11.5).attr("fill","#222").text("Log FC");
const yt = g.append("text").attr("transform",`translate(20,${(A.t+A.b)/2}) rotate(-90)`)
  .attr("text-anchor","middle").attr("font-size",11.5).attr("fill","#222");
yt.append("tspan").text("\u2212Log10 (adj.");
yt.append("tspan").attr("font-style","italic").text("p");
yt.append("tspan").text("-value)");

// legend
g.append("text").attr("x",44).attr("y",282).attr("font-size",11).attr("fill","#222").text("Sig");
[["Down","#00e000",47,292],["Up","#ee0000",163,292],["Not","#bebebe",47,306]].forEach(([t,c,lx,ly])=>{
  g.append("circle").attr("cx",lx).attr("cy",ly).attr("r",2.2).attr("fill",c);
  g.append("text").attr("x",lx+10).attr("y",ly).attr("dy","0.35em").attr("font-size",11).attr("fill","#222").text(t);
});
caption(142,330,"(a)");
})();

// ===== (b) boxplots =====
(function(){
const B = {l:335,r:660,t:27,b:200};
const x = d3.scaleBand().domain(genes).range([336,655.7]).padding(0);
const y = d3.scaleLinear().domain([1.29,10.9]).range([B.b,B.t]);
const g = svg.append("g");
const bw = x.bandwidth()*0.39;
const cols = ["#3A78C2","#EE5A5E"];

genes.forEach((gene,i)=>{
  const c = x(gene)+x.bandwidth()/2;
  [[boxControl[i],outControl[i],c-bw],[boxTreat[i],outTreat[i],c]].forEach(([s,outs,x0],k)=>{
    const xm = x0+bw/2;
    g.append("line").attr("x1",xm).attr("x2",xm).attr("y1",y(s[0])).attr("y2",y(s[4]))
      .attr("stroke","#111").attr("stroke-width",0.9);
    g.append("rect").attr("x",x0).attr("y",y(s[3])).attr("width",bw).attr("height",y(s[1])-y(s[3]))
      .attr("fill",cols[k]).attr("stroke","#333").attr("stroke-width",0.8);
    g.append("line").attr("x1",x0).attr("x2",x0+bw).attr("y1",y(s[2])).attr("y2",y(s[2]))
      .attr("stroke","#000").attr("stroke-width",1.8);
    outs.forEach(o=>g.append("circle").attr("cx",xm).attr("cy",y(o)).attr("r",1.7).attr("fill","#000"));
  });
  g.append("text").attr("x",c).attr("y",32).attr("text-anchor","middle")
    .attr("font-size",9).attr("fill","#777").text(sigMarks[i]);
});

const ya = g.append("g").attr("transform",`translate(${B.l},0)`)
  .call(d3.axisLeft(y).tickValues([2.5,5,7.5,10]).tickFormat(d3.format(".1f")).tickSize(3));
ya.select(".domain").attr("d",`M0,${B.t}V${B.b}`);
const xa = g.append("g").attr("transform",`translate(0,${B.b})`)
  .call(d3.axisBottom(x).tickSize(3));
xa.select(".domain").attr("d",`M${B.l},0H${B.r}`);
xa.selectAll("text").attr("transform","rotate(-90)").attr("text-anchor","end")
  .attr("x",-6).attr("y",0).attr("dy","0.35em");
[xa,ya].forEach(a=>{a.select(".domain").attr("stroke","#555");
  a.selectAll("text").attr("font-family",serif).attr("font-size",10.5).attr("fill","#333");
  a.selectAll("line").attr("stroke","#555");});

g.append("text").attr("transform",`translate(297,${(B.t+B.b)/2}) rotate(-90)`)
  .attr("text-anchor","middle").attr("font-size",11.5).attr("fill","#222").text("Gene expression");

g.append("text").attr("x",334).attr("y",280).attr("font-size",11).attr("fill","#222").text("Type");
[["Control",0,290.5],["Treat",1,305.5]].forEach(([t,k,cy])=>{
  g.append("line").attr("x1",340).attr("x2",340).attr("y1",cy-6).attr("y2",cy+6).attr("stroke","#333").attr("stroke-width",0.8);
  g.append("rect").attr("x",334).attr("y",cy-4.5).attr("width",12).attr("height",9)
    .attr("fill",cols[k]).attr("stroke","#333").attr("stroke-width",0.8);
  g.append("line").attr("x1",334).attr("x2",346).attr("y1",cy).attr("y2",cy).attr("stroke","#000").attr("stroke-width",1.2);
  g.append("text").attr("x",352).attr("y",cy).attr("dy","0.35em").attr("font-size",11).attr("fill","#222").text(t);
});
caption(476,330,"(b)");
})();

// ===== (c) correlation matrix =====
(function(){
const C = {x:14,y:353,w:313,h:288};
const n = genes.length, cw = C.w/n, ch = C.h/n;
const g = svg.append("g");
const doms = genes.map((gn,k)=>{const e=d3.extent(samples,s=>s[k]); const p=(e[1]-e[0])*0.05; return [e[0]-p,e[1]+p];});
const starsFor = r => Math.abs(r)>=0.35?"***":Math.abs(r)>=0.28?"**":Math.abs(r)>=0.2?"*":"";

function smooth(xv,yv){
  const e = d3.extent(xv), bw=(e[1]-e[0])*0.2;
  return d3.range(13).map(i=>{
    const x0=e[0]+(e[1]-e[0])*i/12; let sw=0, sy=0;
    xv.forEach((xx,k)=>{const w=Math.exp(-0.5*((xx-x0)/bw)**2); sw+=w; sy+=w*yv[k];});
    return [x0,sy/sw];
  });
}

for(let i=0;i<n;i++){
  for(let j=0;j<n;j++){
    const x0 = C.x+j*cw, y0 = C.y+i*ch;
    const sx = d3.scaleLinear().domain(doms[j]).range([x0+1,x0+cw-1]);
    const sy = d3.scaleLinear().domain(doms[i]).range([y0+ch-1,y0+1]);
    const cell = g.append("g");
    if(i>j){
      cell.selectAll("circle").data(samples).join("circle")
        .attr("cx",s=>sx(s[j])).attr("cy",s=>sy(s[i])).attr("r",2.5)
        .attr("fill","none").attr("stroke","#000").attr("stroke-width",0.8);
      const sm = smooth(samples.map(s=>s[j]),samples.map(s=>s[i]));
      cell.append("path").attr("d",d3.line().x(d=>sx(d[0])).y(d=>sy(d[1])).curve(d3.curveBasis)(sm))
        .attr("fill","none").attr("stroke","#e8333a").attr("stroke-width",1);
    } else if(i<j){
      const r = corrUpper[i][j-i-1];
      cell.append("text").attr("x",x0+cw/2).attr("y",y0+ch/2+1).attr("text-anchor","middle")
        .attr("dy","0.35em").attr("font-family",sans).attr("font-size",Math.max(2.2,9*Math.abs(r)))
        .attr("fill","#111").text(d3.format(".2f")(r).replace("-","\u2212"));
      cell.append("text").attr("x",x0+cw-1.5).attr("y",y0+4.5).attr("text-anchor","end")
        .attr("font-family",sans).attr("font-size",4.5).attr("fill","#e41a1c").text(starsFor(r));
    } else {
      const vals = samples.map(s=>s[i]);
      const bins = d3.bin().domain(doms[i]).thresholds(d3.range(doms[i][0],doms[i][1],(doms[i][1]-doms[i][0])/9))(vals);
      const dens = bins.map(b=>b.length/(vals.length*(b.x1-b.x0)));
      const bwk = (doms[i][1]-doms[i][0])*0.09;
      const kd = d3.range(31).map(k=>{const xx=doms[i][0]+(doms[i][1]-doms[i][0])*k/30;
        return [xx,d3.mean(vals,v=>Math.exp(-0.5*((xx-v)/bwk)**2))/(bwk*Math.sqrt(2*Math.PI))];});
      const hy = d3.scaleLinear().domain([0,Math.max(d3.max(dens),d3.max(kd,d=>d[1]))*1.12]).range([y0+ch,y0+1]);
      bins.forEach((b,k)=>cell.append("rect").attr("x",sx(b.x0)).attr("width",Math.max(0,sx(b.x1)-sx(b.x0)))
        .attr("y",hy(dens[k])).attr("height",y0+ch-hy(dens[k]))
        .attr("fill","#999").attr("stroke","#222").attr("stroke-width",0.35));
      cell.append("path").attr("d",d3.line().x(d=>sx(d[0])).y(d=>hy(d[1])).curve(d3.curveBasis)(kd))
        .attr("fill","none").attr("stroke","#e8333a").attr("stroke-width",1);
      cell.append("text").attr("x",x0+1.5).attr("y",y0+4).attr("font-family",sans).attr("font-size",3.6)
        .attr("fill","#333").text(genes[i]);
    }
    cell.append("rect").attr("x",x0).attr("y",y0).attr("width",cw).attr("height",ch)
      .attr("fill","none").attr("stroke","#333").attr("stroke-width",1);
  }
}

// outer axes, alternating like pairs()
const ax = g.append("g").attr("stroke","#222").attr("stroke-width",0.6);
genes.forEach((gn,k)=>{
  const x0 = C.x+k*cw, y0 = C.y+k*ch;
  const sx = d3.scaleLinear().domain(doms[k]).range([x0+1,x0+cw-1]);
  const sy = d3.scaleLinear().domain(doms[k]).range([y0+ch-1,y0+1]);
  const marksX = Array.from(new Set([...sx.ticks(5),...colTickLabels[k].map(Number)])).filter(v=>v>=doms[k][0]&&v<=doms[k][1]).sort((a,b)=>a-b);
  const marksY = Array.from(new Set([...sy.ticks(5),...rowTickLabels[k].map(Number)])).filter(v=>v>=doms[k][0]&&v<=doms[k][1]).sort((a,b)=>a-b);
  const top = k%2===1;
  const ay0 = top?C.y:C.y+C.h, dir = top?-1:1;
  ax.append("line").attr("x1",sx(marksX[0])).attr("x2",sx(marksX[marksX.length-1])).attr("y1",ay0).attr("y2",ay0);
  marksX.forEach(v=>ax.append("line").attr("x1",sx(v)).attr("x2",sx(v)).attr("y1",ay0).attr("y2",ay0+dir*3.5));
  colTickLabels[k].forEach(t=>g.append("text").attr("x",sx(+t)).attr("y",top?ay0-6:ay0+12)
    .attr("text-anchor","middle").attr("font-size",8.2).attr("fill","#222").text(t));
  const left = k%2===1;
  const ax0 = left?C.x:C.x+C.w, dx = left?-1:1;
  const fs = rowTickLabels[k].length>2?6.4:7.8;
  ax.append("line").attr("y1",sy(marksY[0])).attr("y2",sy(marksY[marksY.length-1])).attr("x1",ax0).attr("x2",ax0);
  marksY.forEach(v=>ax.append("line").attr("y1",sy(v)).attr("y2",sy(v)).attr("x1",ax0).attr("x2",ax0+dx*3));
  rowTickLabels[k].forEach(t=>g.append("text").attr("x",left?ax0-3.5:ax0+4).attr("y",sy(+t)).attr("dy","0.35em")
    .attr("text-anchor",left?"end":"start").attr("font-size",fs).attr("fill","#222").text(t));
});
caption(166,674,"(c)");
})();

// ===== (d) ROC =====
(function(){
const D = {l:395,r:670,t:381,b:620};
const x = d3.scaleLinear().domain([0,1]).range([421.7,643.4]);
const y = d3.scaleLinear().domain([0,1]).range([610.7,390]);
const g = svg.append("g");
g.append("line").attr("x1",x(-0.042)).attr("y1",y(-0.042)).attr("x2",x(1.041)).attr("y2",y(1.041))
  .attr("stroke","#aaa").attr("stroke-width",0.9);
const line = d3.line().x(d=>x(d[0])).y(d=>y(d[1])).curve(d3.curveStepBefore);
rocCurves.forEach((c,i)=>g.append("path").attr("d",line(c)).attr("fill","none")
  .attr("stroke",rocColors[i]).attr("stroke-width",2));
g.append("rect").attr("x",D.l).attr("y",D.t).attr("width",D.r-D.l).attr("height",D.b-D.t)
  .attr("fill","none").attr("stroke","#222").attr("stroke-width",1);

const ticks = [0,0.2,0.4,0.6,0.8,1.0];
ticks.forEach(v=>{
  g.append("line").attr("x1",x(v)).attr("x2",x(v)).attr("y1",D.b).attr("y2",D.b+4).attr("stroke","#222");
  g.append("text").attr("x",x(v)).attr("y",D.b+17).attr("text-anchor","middle").attr("font-size",10.5)
    .attr("fill","#333").text(d3.format(".1f")(v));
  g.append("line").attr("y1",y(v)).attr("y2",y(v)).attr("x1",D.l).attr("x2",D.l-4).attr("stroke","#222");
  g.append("text").attr("x",D.l-9).attr("y",y(v)).attr("dy","0.35em").attr("text-anchor","end").attr("font-size",10.5)
    .attr("fill","#333").text(d3.format(".1f")(v));
});
g.append("text").attr("x",532).attr("y",654).attr("text-anchor","middle").attr("font-size",11).attr("fill","#222").text("1 \u2013 specificity");
g.append("text").attr("transform",`translate(364,${(D.t+D.b)/2}) rotate(-90)`).attr("text-anchor","middle")
  .attr("font-size",11).attr("fill","#222").text("Sensitivity");

genes.forEach((gn,i)=>{
  const ly = 405+i*14.35;
  g.append("line").attr("x1",534).attr("x2",553).attr("y1",ly).attr("y2",ly).attr("stroke",rocColors[i]).attr("stroke-width",3);
  g.append("text").attr("x",561).attr("y",ly).attr("dy","0.35em").attr("font-family",sans).attr("font-size",10.4)
    .attr("fill","#333").text(`${gn}, AUC=${d3.format(".3f")(aucVals[i])}`);
});
caption(540,674,"(d)");
})();
</script>
</body></html>
